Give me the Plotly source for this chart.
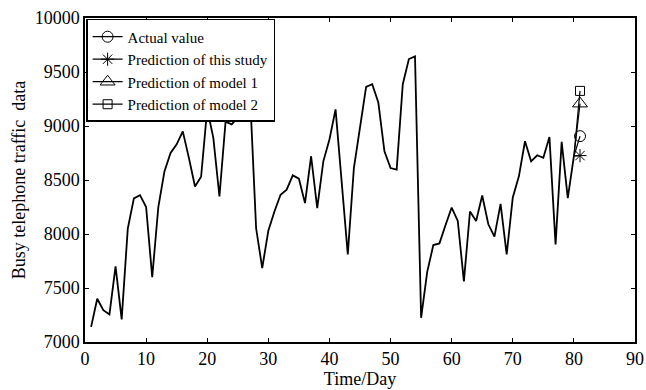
import plotly.graph_objects as go

days = list(range(1, 81))
traffic = [7140, 7400, 7295, 7255, 7700, 7210, 8050, 8330, 8360, 8250,
           7600, 8250, 8580, 8750, 8830, 8950, 8705, 8440, 8530, 9160,
           8890, 8347, 9040, 9015, 9080, 9180, 9300, 8053, 7685, 8030,
           8208, 8363, 8410, 8543, 8512, 8286, 8720, 8239, 8673, 8875,
           9154, 8490, 7811, 8611, 8984, 9362, 9387, 9217, 8766, 8611,
           8596, 9387, 9620, 9645, 7224, 7649, 7898, 7913, 8084, 8245,
           8121, 7562, 8208, 8121, 8357, 8090, 7975, 8279, 7811, 8338,
           8534, 8859, 8673, 8729, 8705, 8897, 7904, 8853, 8332, 8720]

pred_day = 81
pred_names = ["Actual value", "Prediction of this study",
              "Prediction of model 1", "Prediction of model 2"]
pred_values = [8906, 8726, 9207, 9325]
pred_symbols = ["circle-open", "asterisk-open", "triangle-up-open", "square-open"]
pred_sizes = [11, 11, 13, 9]

x_ticks = [0, 10, 20, 30, 40, 50, 60, 70, 80, 90]
y_ticks = [7000, 7500, 8000, 8500, 9000, 9500, 10000]
y_tick_labels = ["7000", "7500", "8000", "8500", "9000", "9500", "10000"]

FONT = "Liberation Serif, Times New Roman, serif"

fig = go.Figure()
fig.add_trace(go.Scatter(x=days, y=traffic, mode="lines",
                         line=dict(color="black", width=1.8), showlegend=False))

for name, val, sym, sz in zip(pred_names, pred_values, pred_symbols, pred_sizes):
    fig.add_trace(go.Scatter(x=[days[-1], pred_day], y=[traffic[-1], val], mode="lines",
                             line=dict(color="black", width=1.2), showlegend=False))
    fig.add_trace(go.Scatter(x=[pred_day], y=[val], mode="lines+markers", name=name,
                             line=dict(color="black", width=1.2),
                             marker=dict(symbol=sym, size=sz, color="black",
                                         line=dict(color="black", width=1))))

axis_common = dict(showline=True, linecolor="black", linewidth=1.5, mirror="ticks",
                   ticks="inside", ticklen=4, tickcolor="black", tickwidth=1,
                   showgrid=False, zeroline=False, automargin=False,
                   tickfont=dict(family=FONT, size=18, color="black"))

fig.update_xaxes(range=[0, 90], tickvals=x_ticks,
                 title=dict(text="Time/Day", font=dict(family=FONT, size=18, color="black"),
                            standoff=0),
                 **axis_common)
fig.update_yaxes(range=[7000, 10000], tickvals=y_ticks, ticktext=y_tick_labels,
                 title=dict(text="Busy telephone traffic\u00a0 data",
                            font=dict(family=FONT, size=18, color="black"), standoff=4),
                 **axis_common)

fig.update_layout(
    width=646, height=390,
    margin=dict(l=85, r=11, t=18, b=48),
    paper_bgcolor="white", plot_bgcolor="white",
    font=dict(family=FONT, size=16, color="black"),
    legend=dict(x=0.002, y=0.997, xanchor="left", yanchor="top",
                bgcolor="white", bordercolor="black", borderwidth=1.5,
                font=dict(family=FONT, size=15, color="black"),
                itemwidth=30, tracegroupgap=0),
)

fig.write_html("out.html",
               config={"displayModeBar": False},
               post_script="document.body.style.margin='0';"
                           "document.documentElement.style.overflow='hidden';"
                           "document.body.style.overflow='hidden';")
